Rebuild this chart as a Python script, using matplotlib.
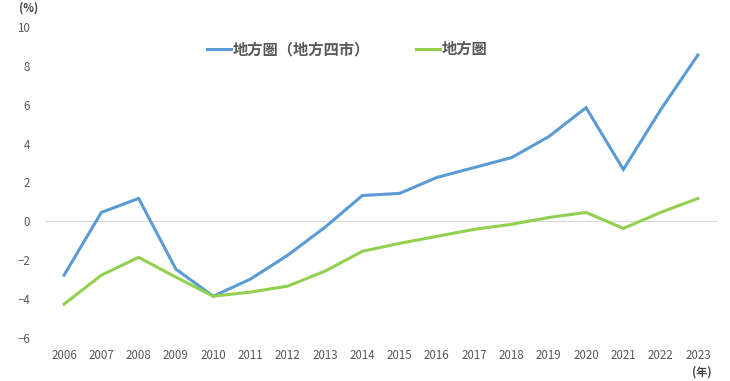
import matplotlib.pyplot as plt
import numpy as np

plt.rcParams['font.family'] = ['Noto Sans CJK JP', 'DejaVu Sans']

# data (%)
years = ["2006", "2007", "2008", "2009", "2010", "2011", "2012", "2013", "2014",
         "2015", "2016", "2017", "2018", "2019", "2020", "2021", "2022", "2023"]
four_cities = [-2.77, 0.46, 1.18, -2.46, -3.85, -2.97, -1.74, -0.3, 1.33,
               1.44, 2.26, 2.77, 3.28, 4.36, 5.85, 2.67, 5.74, 8.56]
regional = [-4.26, -2.77, -1.85, -2.87, -3.85, -3.64, -3.33, -2.56, -1.54,
            -1.13, -0.77, -0.41, -0.15, 0.2, 0.46, -0.36, 0.46, 1.18]
labels = ["地方圏（地方四市）", "地方圏"]

grey = "#595959"

fig = plt.figure(figsize=(7.3, 3.81), dpi=100)
ax = fig.add_axes([0.0622, 0.1129, 0.9194, 0.8162])

x = np.arange(len(years))
ax.plot(x, four_cities, color="#5B9BD5", lw=2.2, label=labels[0], solid_joinstyle="miter")
ax.plot(x, regional, color="#92D050", lw=2.2, label=labels[1], solid_joinstyle="miter")
ax.axhline(0, color="#D9D9D9", lw=0.8, zorder=0)

ax.set_xlim(-0.5, len(years) - 0.5)
ax.set_ylim(-6, 10)
ax.set_yticks(np.arange(-6, 11, 2))
ax.set_xticks(x)
ax.set_xticklabels(years)
ax.tick_params(length=0, labelsize=8.3, colors=grey)
ax.tick_params(axis="y", pad=11)
ax.tick_params(axis="x", pad=8)
for s in ax.spines.values():
    s.set_visible(False)

fig.text(29 / 730, 1 - 8 / 381, "(%)", ha="center", va="center", fontsize=8, color="#404040",
         fontweight="bold")
fig.text(702 / 730, 1 - 372 / 381, "(年)", ha="center", va="center", fontsize=8, color="#404040",
         fontweight="bold")

leg = ax.legend(loc="center", bbox_to_anchor=(0.45, 0.929), ncol=2, frameon=False,
                handlelength=1.55, handletextpad=0.15, columnspacing=3.0,
                prop={"size": 11, "weight": "bold"})
for t in leg.get_texts():
    t.set_color(grey)

plt.savefig("out.png", dpi=100)
